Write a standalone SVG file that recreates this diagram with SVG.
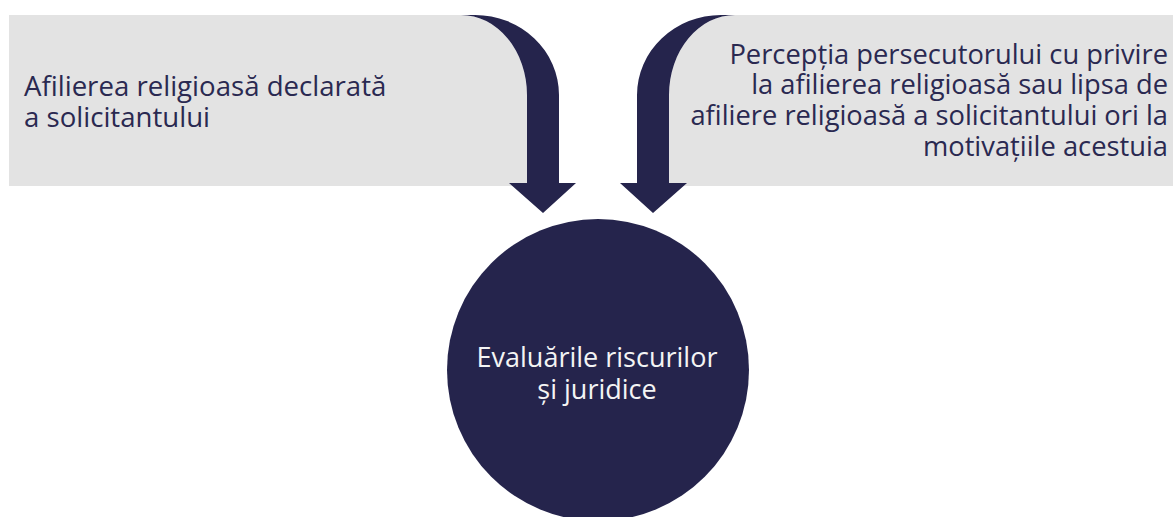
<svg xmlns="http://www.w3.org/2000/svg" width="1173" height="517" viewBox="0 0 1173 517">
<style>
.box{fill:#e3e3e3}
.lbl{font-family:"Open Sans","Liberation Sans",sans-serif;font-size:27.6px;fill:#2a2951}
.lblr{font-size:27.3px}
.arrow{fill:#25244c}
.circ{fill:#25244c}
.ctext{font-family:"Open Sans","Liberation Sans",sans-serif;font-size:27px;fill:#f4f4f4;text-anchor:middle}
</style>
<rect width="1173" height="517" fill="#ffffff"/>
<g id="node-left">
<path class="box" d="M9,15 L461,15 A66 80 0 0 1 527,95 L527,186 L9,186 Z"/>
<text class="lbl" x="24" y="96">Afilierea religioasă declarată</text>
<text class="lbl" x="24" y="127">a solicitantului</text>
</g>
<g id="node-right">
<path class="box" d="M1173,15 L735,15 A66 80 0 0 0 669,95 L669,186 L1173,186 Z"/>
<g class="lbl lblr" text-anchor="end">
<text x="1168" y="63.5">Percepția persecutorului cu privire</text>
<text x="1168" y="94.3">la afilierea religioasă sau lipsa de</text>
<text x="1168" y="125">afiliere religioasă a solicitantului ori la</text>
<text x="1168" y="155.8">motivațiile acestuia</text>
</g>
</g>
<g id="node-center">
<circle class="circ" cx="598" cy="370" r="151"/>
<text class="ctext" x="597" y="366.7">Evaluările riscurilor</text>
<text class="ctext" x="597" y="399.3">și juridice</text>
</g>
<g id="connectors">
<path class="arrow" d="M461,15 L475,15 A84 80 0 0 1 559,95 L559,183 L576,183 L543,213 L509,183 L527,183 L527,95 A66 80 0 0 0 461,15 Z"/>
<path class="arrow" d="M735,15 L721,15 A84 80 0 0 0 637,95 L637,183 L620,183 L653,213 L687,183 L669,183 L669,95 A66 80 0 0 1 735,15 Z"/>
</g>
</svg>
